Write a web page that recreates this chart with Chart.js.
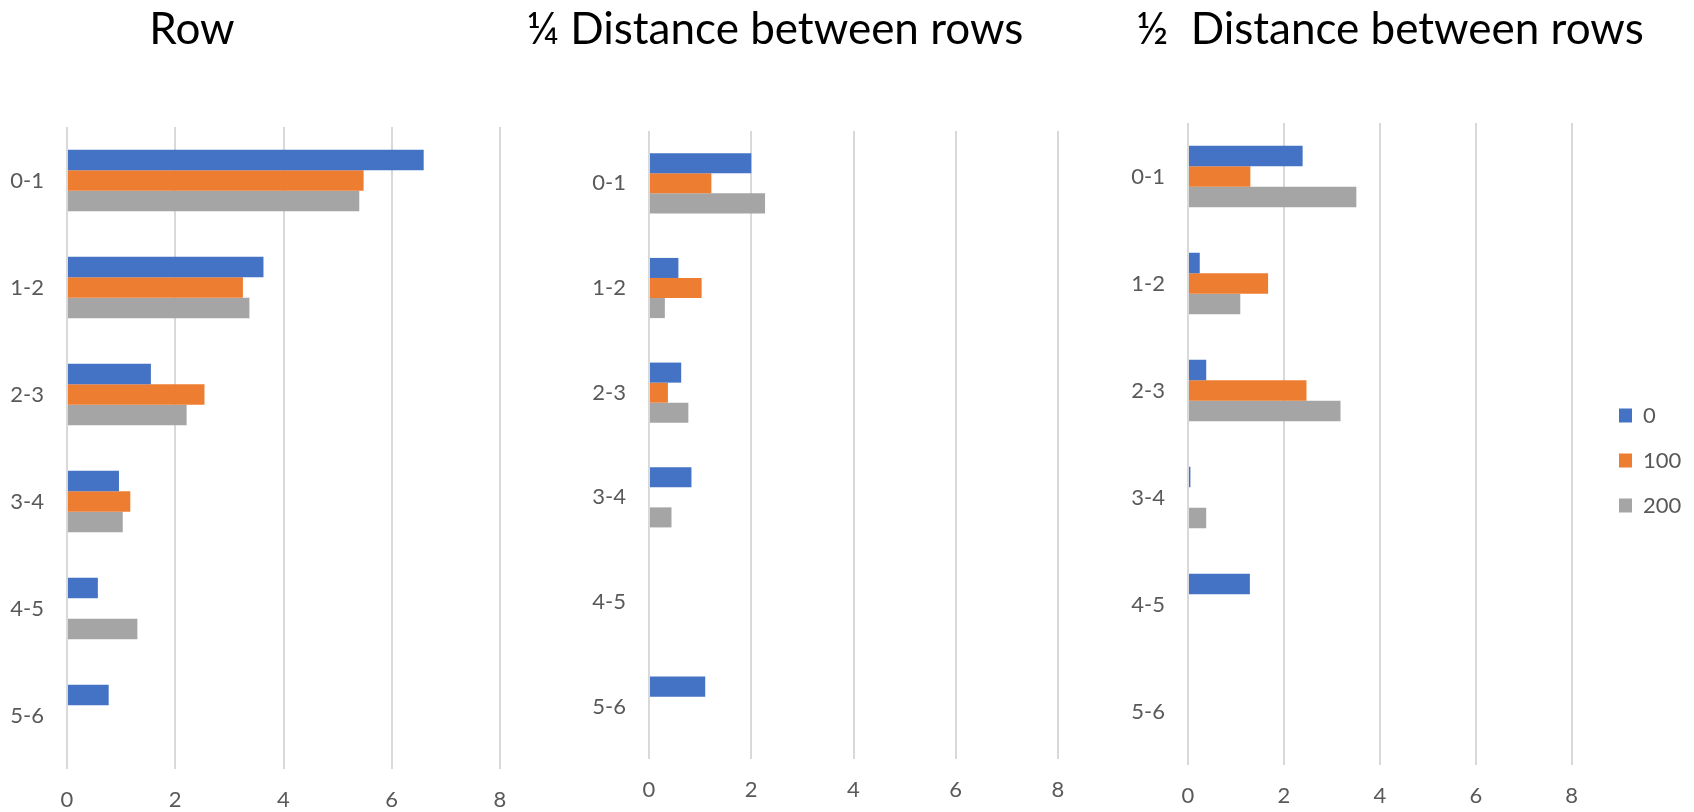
<!DOCTYPE html>
<html>
<head>
<meta charset="utf-8">
<script src="https://cdn.jsdelivr.net/npm/chart.js@4.4.1/dist/chart.umd.min.js"></script>
<style>
  html, body { margin: 0; padding: 0; background: #fff; }
  #wrap { position: relative; width: 1694px; height: 812px; overflow: hidden; }
  canvas { position: absolute; top: 0; }
</style>
</head>
<body>
<div id="wrap">
  <canvas id="rowChart" width="560" height="812" style="left:0px"></canvas>
  <canvas id="quarterChart" width="600" height="812" style="left:500px"></canvas>
  <canvas id="halfChart" width="594" height="812" style="left:1100px"></canvas>
</div>
<script>
const categories = ['0-1', '1-2', '2-3', '3-4', '4-5', '5-6'];
const seriesNames = ['0', '100', '200'];
const seriesColors = ['#4472C4', '#ED7D31', '#A5A5A5'];
const xTicks = [0, 2, 4, 6, 8];

// Row
const row0 = [6.59, 3.63, 1.55, 0.96, 0.57, 0.77];
const row100 = [5.48, 3.25, 2.54, 1.17, null, null];
const row200 = [5.40, 3.37, 2.21, 1.03, 1.30, null];

// 1/4 distance between rows
const quarter0 = [2.00, 0.575, 0.63, 0.83, null, 1.10];
const quarter100 = [1.22, 1.03, 0.37, null, null, null];
const quarter200 = [2.27, 0.31, 0.77, 0.44, null, null];

// 1/2 distance between rows
const half0 = [2.39, 0.245, 0.38, 0.05, 1.29, null];
const half100 = [1.30, 1.67, 2.47, null, null, null];
const half200 = [3.51, 1.09, 3.18, 0.38, null, null];

Chart.defaults.font.family = 'Lato';
Chart.defaults.font.size = 22;
Chart.defaults.color = '#595959';

// titles sit at their own spots, not centred on the canvas
const panelTitle = {
    id: 'panelTitle',
    afterDraw(chart, args, opts) {
        if (!opts.text) return;
        const ctx = chart.ctx;
        ctx.save();
        ctx.font = '44px Lato';
        ctx.fillStyle = '#000000';
        ctx.textAlign = 'center';
        ctx.textBaseline = 'alphabetic';
        ctx.fillText(opts.text, opts.x, opts.y);
        ctx.restore();
    }
};

// move the legend box to where Excel put it
const legendSpot = {
    id: 'legendSpot',
    afterLayout(chart, args, opts) {
        const lg = chart.legend;
        if (!lg || opts.left == null) return;
        const w = lg.width;
        lg.left = opts.left;
        lg.right = opts.left + w;
        lg.top += opts.dy;
        lg.bottom += opts.dy;
    }
};

function makeDatasets(values) {
    return values.map((vals, i) => ({
        label: seriesNames[i],
        data: vals,
        backgroundColor: seriesColors[i],
        borderWidth: 0,
        categoryPercentage: 0.575,
        barPercentage: 1
    }));
}

function makeChart(id, values, box) {
    const ctx = document.getElementById(id);
    return new Chart(ctx, {
        type: 'bar',
        data: {
            labels: categories,
            datasets: makeDatasets(values)
        },
        plugins: [panelTitle, legendSpot],
        options: {
            indexAxis: 'y',
            responsive: false,
            animation: false,
            layout: {
                padding: { top: box.top, right: box.right, bottom: 0, left: 0 }
            },
            plugins: {
                title: { display: false },
                tooltip: { enabled: false },
                legend: {
                    display: !!box.legend,
                    position: 'right',
                    labels: {
                        boxWidth: 13,
                        boxHeight: 14,
                        padding: 23,
                        font: { size: 22 },
                        color: '#595959'
                    }
                },
                panelTitle: { text: box.title, x: box.titleX, y: 44 },
                legendSpot: box.legend ? box.legend : { left: null }
            },
            scales: {
                x: {
                    type: 'linear',
                    min: 0,
                    max: 8,
                    afterBuildTicks: scale => {
                        scale.ticks = xTicks.map(v => ({ value: v }));
                    },
                    afterFit: scale => { scale.height = box.xHeight; },
                    grid: { color: '#D9D9D9', lineWidth: 2, drawTicks: false },
                    border: { display: false },
                    ticks: { padding: box.xPad }
                },
                y: {
                    afterFit: scale => { scale.width = box.yWidth; },
                    grid: { display: false, drawTicks: false },
                    border: { display: false },
                    ticks: { padding: 23 }
                }
            }
        }
    });
}

makeChart('rowChart', [row0, row100, row200], {
    top: 127, right: 60, yWidth: 67, xHeight: 43, xPad: 18,
    title: 'Row', titleX: 192
});

makeChart('quarterChart', [quarter0, quarter100, quarter200], {
    top: 131, right: 42, yWidth: 149, xHeight: 53, xPad: 18,
    title: '¼ Distance between rows', titleX: 275
});

makeChart('halfChart', [half0, half100, half200], {
    top: 123, right: 27, yWidth: 88, xHeight: 47, xPad: 18,
    title: '½  Distance between rows', titleX: 290,
    legend: { left: 496, dy: -7 }
});
</script>
</body>
</html>
